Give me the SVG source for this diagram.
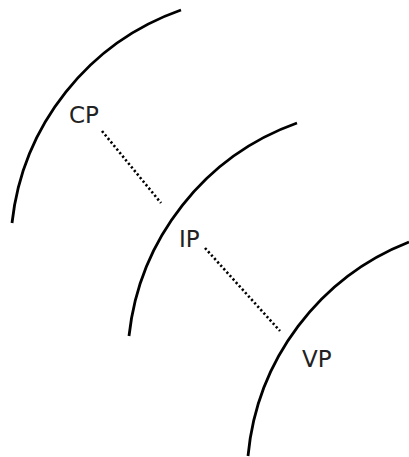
<svg xmlns="http://www.w3.org/2000/svg" width="409" height="457" viewBox="0 0 409 457">
<style>
.arc{fill:none;stroke:#000;stroke-width:2.8}
.dot{fill:none;stroke:#000;stroke-width:2.6;stroke-dasharray:2.2 2.4}
.lbl{font-family:"DejaVu Sans",sans-serif;font-size:23px;fill:#222}
</style>
<rect width="409" height="457" fill="#fff"/>
<g id="arc-cp"><path class="arc" d="M12,223 A255,255 0 0 1 181,10"/></g>
<g id="arc-ip"><path class="arc" d="M129,336 A255,255 0 0 1 297,123"/></g>
<g id="arc-vp"><path class="arc" d="M248,456 A255,255 0 0 1 409,242"/></g>
<g id="connectors">
<line class="dot" x1="102" y1="131" x2="161" y2="203"/>
<line class="dot" x1="205" y1="248" x2="280" y2="331"/>
</g>
<g id="cp"><text class="lbl" x="69" y="123">CP</text></g>
<g id="ip"><text class="lbl" x="179" y="247">IP</text></g>
<g id="vp"><text class="lbl" x="302" y="367">VP</text></g>
</svg>
